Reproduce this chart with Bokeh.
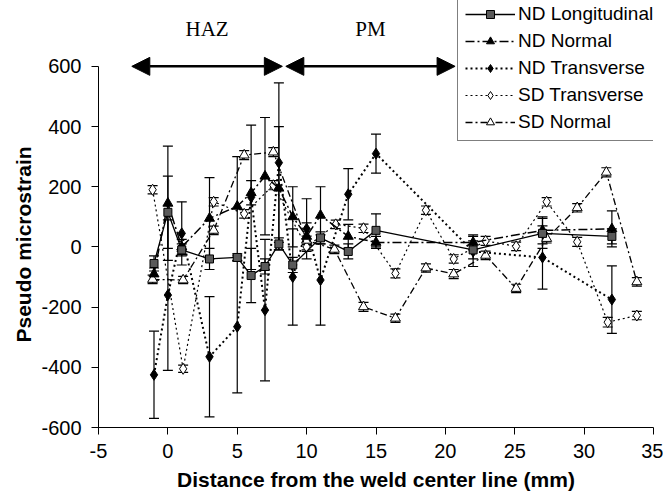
import numpy as np
from bokeh.plotting import figure
from bokeh.models import (ColumnDataSource, Whisker, TeeHead, Arrow, NormalHead,
                          Legend, LegendItem, Range1d, Title)
from bokeh.core.properties import value
from bokeh.embed import file_html
from bokeh.resources import INLINE

# ---------------- data ----------------
ndl_x = [-1, 0, 1, 3, 5, 6, 7, 8, 9, 11, 13, 15, 22, 27, 32]
ndl_y = [-55, 115, -10, -40, -35, -95, -65, 10, -60, 30, -15, 55, -10, 45, 35]
ndl_e = [25, 120, 20, 35, 12, 90, 25, 20, 25, 20, 25, 55, 30, 50, 25]

ndn_x = [-1, 0, 1, 3, 5, 6, 7, 8, 9, 10, 11, 13, 15, 22, 27, 32]
ndn_y = [-90, 145, 0, 95, 135, 180, 235, 195, 100, 35, 105, 35, 15, 15, 55, 60]
ndn_e = [20, 190, 25, 135, 165, 40, 195, 205, 100, 45, 95, 40, 20, 25, 45, 60]

ndt_x = [-1, 0, 1, 3, 5, 6, 7, 8, 9, 10, 11, 13, 15, 22, 27, 32]
ndt_y = [-425, -160, 45, -365, -265, 165, -210, 280, -100, 60, -110, 175, 310, -15, -35, -175]
ndt_e = [145, 250, 105, 200, 220, 240, 235, 265, 160, 100, 150, 85, 65, 50, 105, 112]

sdt_x = [-1.1, 1.1, 3.3, 5.5, 7.6, 10, 12.1, 14.1, 16.4, 18.6, 20.6, 22.9, 25.1, 27.3, 29.5, 31.7, 33.8]
sdt_y = [190, -405, 150, 110, 205, 0, 75, 62, -88, 122, -40, 20, 2, 150, 17, -250, -228]
sdt_e = [14, 12, 14, 14, 15, 15, 14, 14, 15, 14, 14, 15, 14, 14, 15, 16, 14]

sdn_x = [-1.1, 1.1, 3.3, 5.5, 7.6, 10, 12, 14.1, 16.4, 18.6, 20.6, 22.9, 25.1, 27.3, 29.5, 31.6, 33.8]
sdn_y = [-108, -110, 55, 305, 315, 22, -8, -199, -237, -70, -90, -28, -138, 28, 130, 248, -116]
sdn_e = [14, 12, 14, 15, 15, 14, 14, 15, 14, 14, 15, 14, 14, 15, 14, 15, 14]

zone_names = ["HAZ", "PM"]
zone_start = [-2.6, 8.5]
zone_end = [8.25, 20.7]
zone_arrow_y = 600
zone_label_y = 725

x_ticks = [-5, 0, 5, 10, 15, 20, 25, 30, 35]
x_tick_labels = ["-5", "0", "5", "10", "15", "20", "25", "30", "35"]
y_ticks = [-600, -400, -200, 0, 200, 400, 600]
y_tick_labels = ["-600", "-400", "-200", "0", "200", "400", "600"]

x_title = "Distance from the weld center line (mm)"
y_title = "Pseudo microstrain"

# ---------------- figure ----------------
p = figure(width=663, height=493, output_backend="svg", toolbar_location=None,
           x_range=Range1d(-5, 35), y_range=Range1d(-600, 818.8),
           min_border_left=98, min_border_right=10, min_border_top=0, min_border_bottom=65)
p.outline_line_color = None
p.grid.visible = False
p.background_fill_color = "white"
p.border_fill_color = "white"

FONT = "Liberation Sans"
for ax in (p.xaxis[0], p.yaxis[0]):
    ax.axis_line_color = "black"
    ax.axis_line_width = 1
    ax.major_tick_out = 7
    ax.major_tick_in = 0
    ax.major_tick_line_color = "black"
    ax.minor_tick_line_color = None
    ax.major_label_text_font = FONT
    ax.major_label_text_font_size = "20px"
    ax.major_label_text_color = "black"
    ax.axis_label_text_font = FONT
    ax.axis_label_text_font_size = "21px"
    ax.axis_label_text_font_style = "bold"
    ax.axis_label_text_color = "black"

p.xaxis.ticker = x_ticks
p.xaxis.major_label_overrides = dict(zip(x_ticks, x_tick_labels))
p.xaxis.bounds = (x_ticks[0], x_ticks[-1])
p.xaxis.axis_label = x_title
p.xaxis.major_label_standoff = 9
p.xaxis.axis_label_standoff = 7

p.yaxis.ticker = y_ticks
p.yaxis.major_label_overrides = dict(zip(y_ticks, y_tick_labels))
p.yaxis.bounds = (y_ticks[0], y_ticks[-1])
p.yaxis.major_label_standoff = 10

# y title as a left-side title, placed so it is centred on the axis bounds
p.add_layout(Title(text=y_title, align="left", offset=85, standoff=7,
                   text_font=FONT, text_font_style="bold", text_font_size="21px",
                   text_color="black"), "left")


def series(xs, ys, es, marker, fill, size, dash, lw):
    xs = np.array(xs, dtype=float)
    ys = np.array(ys, dtype=float)
    es = np.array(es, dtype=float)
    src = ColumnDataSource(dict(x=xs, y=ys, lower=ys - es, upper=ys + es))
    w = Whisker(base="x", lower="lower", upper="upper", source=src, dimension="height",
                line_color="black", line_width=1.2,
                upper_head=TeeHead(size=10, line_color="black", line_width=1.2),
                lower_head=TeeHead(size=10, line_color="black", line_width=1.2))
    p.add_layout(w)
    lr = p.line("x", "y", source=src, line_color="black", line_width=lw, line_dash=dash)
    sr = p.scatter("x", "y", source=src, marker=marker, size=size,
                   fill_color=fill, line_color="black", line_width=1)
    return [lr, sr]


r_sdt = series(sdt_x, sdt_y, sdt_e, "diamond", "white", 11, "2 3", 1.2)
r_sdn = series(sdn_x, sdn_y, sdn_e, "triangle", "white", 10, "7 3 2 3", 1.3)
r_ndt = series(ndt_x, ndt_y, ndt_e, "diamond", "black", 11, "2 3", 2)
r_ndn = series(ndn_x, ndn_y, ndn_e, "triangle", "black", 10, "9 3 2 3", 1.5)
r_ndl = series(ndl_x, ndl_y, ndl_e, "square", "#5a5a5a", 8, "solid", 1.3)

# zone arrows and labels
zsrc = ColumnDataSource(dict(x0=zone_start, x1=zone_end,
                             y=[zone_arrow_y] * len(zone_names),
                             xm=[(a + b) / 2 for a, b in zip(zone_start, zone_end)],
                             ly=[zone_label_y] * len(zone_names),
                             name=zone_names))
arrow = Arrow(x_start="x0", y_start="y", x_end="x1", y_end="y", source=zsrc,
              line_color="black", line_width=2.5,
              start=NormalHead(size=18, fill_color="black", line_color="black"),
              end=NormalHead(size=18, fill_color="black", line_color="black"))
p.add_layout(arrow)
p.text("xm", "ly", text="name", source=zsrc, text_align="center",
       text_baseline="middle", text_font=value("Liberation Serif"),
       text_font_size=value("21px"), text_color="black")

legend = Legend(items=[
    LegendItem(label="ND Longitudinal", renderers=r_ndl),
    LegendItem(label="ND Normal", renderers=r_ndn),
    LegendItem(label="ND Transverse", renderers=r_ndt),
    LegendItem(label="SD Transverse", renderers=r_sdt),
    LegendItem(label="SD Normal", renderers=r_sdn),
], location=(359, 286))
legend.label_text_font = FONT
legend.label_text_font_size = "19px"
legend.label_text_color = "black"
legend.glyph_width = 50
legend.glyph_height = 20
legend.label_height = 20
legend.label_standoff = 3
legend.padding = 7
legend.spacing = 5
legend.margin = 0
legend.border_line_color = "black"
legend.border_line_width = 1
legend.background_fill_color = "white"
legend.background_fill_alpha = 1
p.add_layout(legend)

open("out.html", "w").write(file_html(p, INLINE))
